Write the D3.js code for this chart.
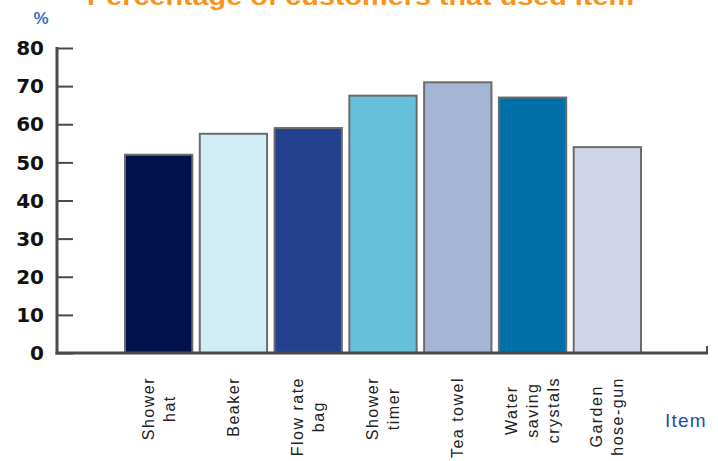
<!DOCTYPE html>
<html>
<head>
<meta charset="utf-8">
<script src="https://cdn.jsdelivr.net/npm/d3@7"></script>
<style>
  html, body { margin: 0; padding: 0; background: #fff; }
  svg { display: block; }
</style>
</head>
<body>
<svg id="chart" width="718" height="461"></svg>
<script>
// ---- data ----
const categories = ["Shower hat", "Beaker", "Flow rate bag", "Shower timer", "Tea towel", "Water saving crystals", "Garden hose-gun"];
const labelLines = [["Shower", "hat"], ["Beaker"], ["Flow rate", "bag"], ["Shower", "timer"], ["Tea towel"], ["Water", "saving", "crystals"], ["Garden", "hose-gun"]];
const values = [52, 57.5, 59, 67.5, 71, 67, 54];
const barColors = ["#00124c", "#d0edf5", "#23418e", "#66c0da", "#a5b6d5", "#0070a8", "#d0d5e9"];
const yTicks = [0, 10, 20, 30, 40, 50, 60, 70, 80];
const titleText = "Percentage of customers that used item";
const yUnit = "%";
const xTitle = "Item";

// ---- layout ----
const svg = d3.select("#chart");
const axisX = 57, axisBottom = 353, axisTop = 48, axisRight = 708;

const y = d3.scaleLinear().domain([0, 80]).range([axisBottom, axisTop]);
const x = d3.scaleBand().domain(categories).range([125, 641]).paddingInner(0.1).paddingOuter(0);

// title (cut off at top like reference)
svg.append("text")
  .attr("x", 87).attr("y", 5)
  .attr("textLength", 547).attr("lengthAdjust", "spacingAndGlyphs")
  .attr("font-family", "Liberation Sans, Arial, sans-serif")
  .attr("font-weight", "bold").attr("font-size", 24)
  .attr("fill", "#f7941d")
  .text(titleText);

// % unit
svg.append("text")
  .attr("x", 41).attr("y", 24)
  .attr("text-anchor", "middle")
  .attr("font-family", "Liberation Sans, Arial, sans-serif")
  .attr("font-size", 17)
  .attr("font-weight", "bold")
  .attr("fill", "#3d6fbf")
  .text(yUnit);

// bars
svg.append("g").selectAll("rect")
  .data(categories)
  .join("rect")
  .attr("x", d => x(d))
  .attr("y", (d, i) => y(values[i]))
  .attr("width", x.bandwidth())
  .attr("height", (d, i) => y(0) - y(values[i]))
  .attr("fill", (d, i) => barColors[i])
  .attr("stroke", "#6b6b6b")
  .attr("stroke-width", 2);

// y axis
const yAxis = d3.axisRight(y).tickValues(yTicks).tickSize(16).tickFormat("");
const gy = svg.append("g").attr("transform", `translate(${axisX},0)`).call(yAxis);
gy.select(".domain").remove();
gy.selectAll(".tick line").attr("stroke", "#4a4a4a").attr("stroke-width", 2);

svg.append("line")
  .attr("x1", axisX).attr("x2", axisX)
  .attr("y1", axisTop - 1).attr("y2", axisBottom + 1.5)
  .attr("stroke", "#4a4a4a").attr("stroke-width", 3);

// y tick labels
svg.append("g").selectAll("text")
  .data(yTicks)
  .join("text")
  .attr("x", 44)
  .attr("y", d => y(d))
  .attr("dy", "0.36em")
  .attr("text-anchor", "end")
  .attr("font-family", "DejaVu Sans, sans-serif")
  .attr("font-weight", "bold")
  .attr("font-size", 20)
  .attr("fill", "#111")
  .text(d => d);

// x axis
svg.append("line")
  .attr("x1", axisX - 1.5).attr("x2", axisRight)
  .attr("y1", axisBottom).attr("y2", axisBottom)
  .attr("stroke", "#4a4a4a").attr("stroke-width", 3);
svg.append("line")
  .attr("x1", axisRight - 1).attr("x2", axisRight - 1)
  .attr("y1", axisBottom - 7).attr("y2", axisBottom)
  .attr("stroke", "#4a4a4a").attr("stroke-width", 2);

// x category labels (rotated, top-anchored block, centred lines)
const labelTop = 377, lineH = 21;
const lg = svg.append("g");
categories.forEach((c, i) => {
  const lines = labelLines[i];
  const g = lg.append("g")
    .attr("transform", `translate(${x(c) + x.bandwidth() / 2},${labelTop}) rotate(-90)`);
  const texts = lines.map((ln, j) => g.append("text")
    .attr("y", (j - (lines.length - 1) / 2) * lineH)
    .attr("dy", "0.35em")
    .attr("text-anchor", "middle")
    .attr("font-family", "Liberation Sans, Arial, sans-serif")
    .attr("font-size", 16)
    .attr("letter-spacing", 1.5)
    .attr("fill", "#222")
    .text(ln));
  const maxLen = d3.max(texts, t => t.node().getComputedTextLength());
  texts.forEach(t => t.attr("x", -maxLen / 2));
});

// x title
svg.append("text")
  .attr("x", 665).attr("y", 427)
  .attr("font-family", "Liberation Sans, Arial, sans-serif")
  .attr("font-size", 19)
  .attr("letter-spacing", 1.2)
  .attr("fill", "#2050a0")
  .text(xTitle);
</script>
</body>
</html>
